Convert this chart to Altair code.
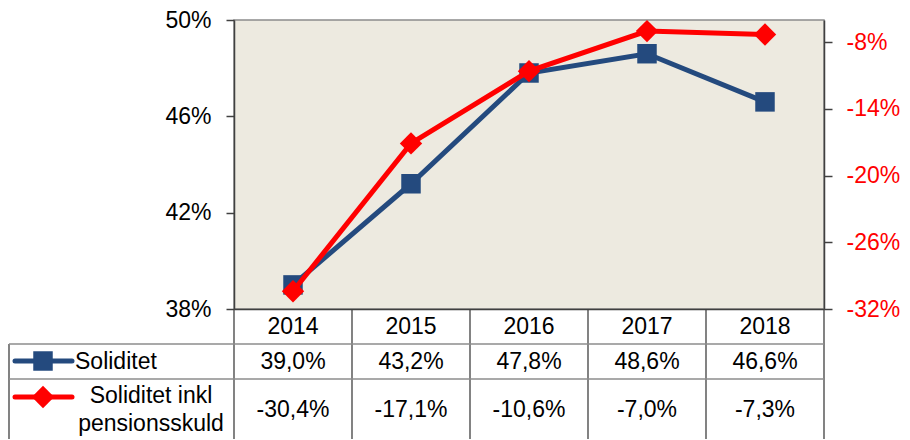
import altair as alt
import pandas as pd

years = ["2014", "2015", "2016", "2017", "2018"]
soliditet = [39.0, 43.2, 47.8, 48.6, 46.6]
soliditet_pens = [-30.4, -17.1, -10.6, -7.0, -7.3]
left_ticks = [38, 42, 46, 50]
right_ticks = [-32, -26, -20, -14, -8]
name_sol = "Soliditet"
name_pens_1 = "Soliditet inkl"
name_pens_2 = "pensionsskuld"

BLUE = "#244A7E"
RED = "#FF0000"
DARK = "#404040"
GREY = "#8C8C8C"
FONT = "Liberation Sans"
W, H = 590, 289
PAD_T, PAD_B, PAD_L, PAD_R = 12, 130, 226, 76
BOTTOM = H + PAD_B
LEFT = -225


def fmt(v):
    return f"{v:.1f}".replace(".", ",") + "%"


df = pd.DataFrame({
    "year": years,
    "sol": soliditet,
    "pens": soliditet_pens,
    "sol_lbl": [fmt(v) for v in soliditet],
    "pens_lbl": [fmt(v) for v in soliditet_pens],
})
one = pd.DataFrame({"k": [0]})

x_axis = alt.Axis(title=None, labels=False, ticks=False, domain=True,
                  domainColor=DARK, domainWidth=1.5, grid=False)
x_scale = alt.Scale(type="band", paddingInner=0, paddingOuter=0)


def xenc(pos):
    return alt.X("year:O", scale=x_scale, axis=x_axis, bandPosition=pos, sort=years)


base = alt.Chart(df)

blue = base.mark_line(
    color=BLUE, strokeWidth=5,
    point=alt.OverlayMarkDef(shape="square", size=380, filled=True, color=BLUE, opacity=1),
).encode(
    x=xenc(0.5),
    y=alt.Y("sol:Q", scale=alt.Scale(domain=[38, 50], nice=False, zero=False),
            axis=alt.Axis(orient="left", values=left_ticks, labelExpr="datum.value + '%'",
                          title=None, grid=False, labelFontSize=23, labelColor="black",
                          tickColor=DARK, tickSize=8, tickWidth=1.5, domainColor=DARK,
                          domainWidth=1.5, labelPadding=15)),
)

red = base.mark_line(
    color=RED, strokeWidth=5,
    point=alt.OverlayMarkDef(shape="diamond", size=500, filled=True, color=RED, opacity=1),
).encode(
    x=xenc(0.5),
    y=alt.Y("pens:Q", scale=alt.Scale(domain=[-32, -6], nice=False, zero=False),
            axis=alt.Axis(orient="right", values=right_ticks, labelExpr="datum.value + '%'",
                          title=None, grid=False, labelFontSize=23, labelColor=RED,
                          tickColor=DARK, tickSize=8, tickWidth=1.5, domainColor=DARK,
                          domainWidth=1.5, labelPadding=14)),
)

# table grid
col_lines = base.mark_rule(color=DARK, strokeWidth=1.3).encode(
    x=xenc(0), y=alt.value(H), y2=alt.value(BOTTOM))
right_line = alt.Chart(one).mark_rule(color=DARK, strokeWidth=1.3).encode(
    x=alt.value(W), y=alt.value(H), y2=alt.value(BOTTOM))
left_line = alt.Chart(one).mark_rule(color=DARK, strokeWidth=1.3).encode(
    x=alt.value(LEFT), y=alt.value(H + 35), y2=alt.value(BOTTOM))
h1 = alt.Chart(one).mark_rule(color=GREY, strokeWidth=1.3).encode(
    x=alt.value(LEFT), x2=alt.value(W), y=alt.value(H + 35))
h2 = alt.Chart(one).mark_rule(color=GREY, strokeWidth=1.3).encode(
    x=alt.value(LEFT), x2=alt.value(W), y=alt.value(H + 70))

txt = dict(font=FONT, fontSize=23, color="black", baseline="middle")
hdr = base.mark_text(**txt).encode(x=xenc(0.5), y=alt.value(H + 18), text="year:N")
row1 = base.mark_text(**txt).encode(x=xenc(0.5), y=alt.value(H + 53), text="sol_lbl:N")
row2 = base.mark_text(**txt).encode(x=xenc(0.5), y=alt.value(H + 101), text="pens_lbl:N")

# legend keys in the table
k1_line = alt.Chart(one).mark_rule(color=BLUE, strokeWidth=5, strokeCap="round").encode(
    x=alt.value(-219), x2=alt.value(-162), y=alt.value(H + 52))
k1_pt = alt.Chart(one).mark_point(shape="square", size=380, filled=True, color=BLUE, opacity=1).encode(
    x=alt.value(-191), y=alt.value(H + 52))
k1_txt = alt.Chart(one).mark_text(align="left", **txt).encode(
    x=alt.value(-159), y=alt.value(H + 53), text=alt.value(name_sol))
k2_line = alt.Chart(one).mark_rule(color=RED, strokeWidth=5, strokeCap="round").encode(
    x=alt.value(-219), x2=alt.value(-162), y=alt.value(H + 88))
k2_pt = alt.Chart(one).mark_point(shape="diamond", size=500, filled=True, color=RED, opacity=1).encode(
    x=alt.value(-191), y=alt.value(H + 88))
k2_t1 = alt.Chart(one).mark_text(align="center", **txt).encode(
    x=alt.value(-83), y=alt.value(H + 87), text=alt.value(name_pens_1))
k2_t2 = alt.Chart(one).mark_text(align="center", **txt).encode(
    x=alt.value(-83), y=alt.value(H + 115), text=alt.value(name_pens_2))

chart = alt.layer(
    blue, red, col_lines, right_line, left_line, h1, h2, hdr, row1, row2,
    k1_line, k1_pt, k1_txt, k2_line, k2_pt, k2_t1, k2_t2,
).resolve_scale(y="independent").properties(
    width=W, height=H,
    autosize=alt.AutoSizeParams(type="none"),
    padding={"top": PAD_T, "bottom": PAD_B, "left": PAD_L, "right": PAD_R},
).configure(
    font=FONT,
).configure_view(
    fill="#EDEAE0", stroke=GREY, strokeWidth=1.5,
).configure_axis(labelFont=FONT)

chart.save("out.html", embed_options={"renderer": "svg", "actions": False})
